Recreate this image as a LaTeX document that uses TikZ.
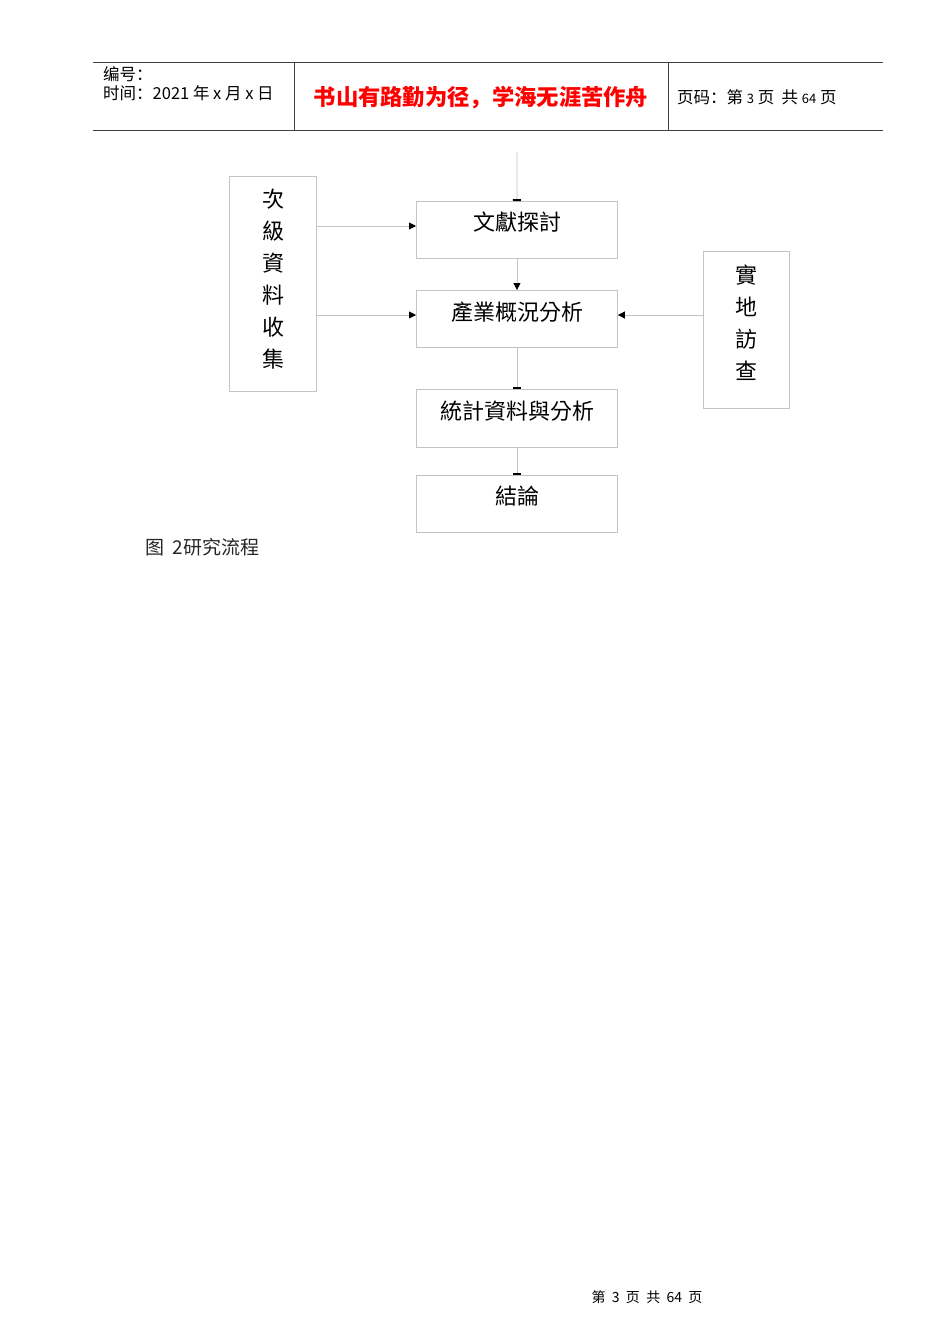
\documentclass[tikz,border=0pt]{standalone}
\usepackage{fontspec}
\setmainfont{Liberation Sans}
\newfontfamily\cjksc{Noto Sans CJK SC}
\newfontfamily\cjktc{Noto Sans CJK TC}
\usetikzlibrary{arrows.meta}
\definecolor{boxgray}{HTML}{C4C4C4}
\definecolor{hdrline}{HTML}{404040}
\tikzset{
  flowbox/.style={draw=boxgray, line width=0.9pt, minimum width=201pt, minimum height=57pt, inner sep=0pt, anchor=north west},
  sidebox/.style={draw=boxgray, line width=0.9pt, inner sep=0pt, anchor=north west},
  boxtext/.style={font=\cjktc\fontsize{22}{32}\selectfont, inner sep=0pt},
  vtext/.style={font=\cjktc\fontsize{22}{32}\selectfont, inner sep=0pt, align=center},
  conn/.style={draw=boxgray, line width=0.9pt, -{Triangle[length=7pt,width=7pt,fill=black,color=black]}},
  tconn/.style={draw=boxgray, line width=0.9pt, -{Rectangle[length=2pt,width=8pt,fill=black,color=black]}},
  hline/.style={draw=hdrline, line width=0.9pt},
}
\begin{document}
\begin{tikzpicture}[x=1pt,y=-1pt]
\useasboundingbox (0,0) rectangle (950,1344);
% header
\coordinate (hTL) at (93,62);
\coordinate (hTR) at (883,62);
\coordinate (hBL) at (93,130);
\coordinate (hBR) at (883,130);
\draw[hline] (hTL) -- (hTR);
\draw[hline] (hBL) -- (hBR);
\coordinate (d1t) at (294,62); \coordinate (d1b) at (294,130);
\coordinate (d2t) at (668,62); \coordinate (d2b) at (668,130);
\draw[hline] (d1t) -- (d1b);
\draw[hline] (d2t) -- (d2b);
\node[anchor=west, inner sep=0pt, font=\cjksc\fontsize{16.5}{18}\selectfont] (hnum) at (103,74) {编号：};
\node[anchor=west, inner sep=0pt, font=\cjksc\fontsize{16.5}{18}\selectfont] (hdate) at (103,93) {时间：2021 年 x 月 x 日};
\node[inner sep=0pt, text=red, font=\cjksc\bfseries\fontsize{22.3}{24}\selectfont] (motto) at (481,98) {书山有路勤为径，学海无涯苦作舟};
\node[anchor=west, inner sep=0pt, font=\cjksc\fontsize{16.5}{18}\selectfont] (hpage) at (677,97) {页码：第 {\fontsize{13}{14}\selectfont 3} 页\ \ 共 {\fontsize{13}{14}\selectfont 64} 页};
% boxes
\node[flowbox] (b1) at (416,201) {};
\node[flowbox] (b2) at (416,290) {};
\node[flowbox, minimum height=58pt] (b3) at (416,389) {};
\node[flowbox] (b4) at (416,475) {};
\node[boxtext] (t1) at (517,222) {文獻探討};
\node[boxtext] (t2) at (517,312) {產業概況分析};
\node[boxtext] (t3) at (517,411) {統計資料與分析};
\node[boxtext] (t4) at (517,496) {結論};
\node[sidebox, minimum width=87pt, minimum height=215pt] (lb) at (229,176) {};
\node[vtext] (lt) at (273,279) {次\\級\\資\\料\\收\\集};
\node[sidebox, minimum width=86pt, minimum height=157pt] (rb) at (703,251) {};
\node[vtext] (rt) at (746,323) {實\\地\\訪\\查};
% connectors
\coordinate (top) at (517,152);
\draw[tconn] (top) -- (b1.north);
\draw[conn] (b1.south) -- (b2.north);
\draw[tconn] (b2.south) -- (b3.north);
\draw[tconn] (b3.south) -- (b4.north);
\draw[conn] (lb.east |- 0,226) -- (b1.west |- 0,226);
\draw[conn] (lb.east |- 0,315) -- (b2.west |- 0,315);
\draw[conn] (rb.west |- 0,315) -- (b2.east |- 0,315);
% caption & footer
\node[anchor=west, inner sep=0pt, font=\cjksc\fontsize{19}{20}\selectfont, text=black!85] (cap) at (145,547) {图\ \ 2研究流程};
\node[inner sep=0pt, font=\cjksc\fontsize{14}{15}\selectfont] (foot) at (647,1297) {第\ \ 3\ \ 页\ \ 共\ \ 64\ \ 页};
\end{tikzpicture}
\end{document}
